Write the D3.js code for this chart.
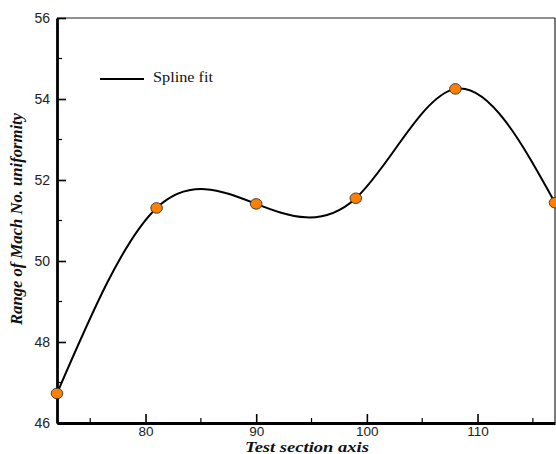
<!DOCTYPE html>
<html><head><meta charset="utf-8">
<script src="https://cdn.jsdelivr.net/npm/d3@7"></script>
<style>body{margin:0;background:#fff}svg{display:block}</style>
</head><body>
<svg id="c" width="556" height="454"></svg>
<script>
const xVals = [72, 81, 90, 99, 108, 117];
const yVals = [46.73, 51.31, 51.41, 51.55, 54.25, 51.44];
const xTicks = [80, 90, 100, 110];
const yTicks = [46, 48, 50, 52, 54, 56];
const legendLabel = "Spline fit";
const xTitle = "Test section axis";
const yTitle = "Range of Mach No. uniformity";

const svg = d3.select("#c");
const L = 57, R = 555, T = 18, B = 423;
const x = d3.scaleLinear().domain([72, 117]).range([L, R]);
const y = d3.scaleLinear().domain([46, 56]).range([B, T]);

// frame
svg.append("line").attr("x1", L).attr("x2", R).attr("y1", T).attr("y2", T).attr("stroke", "#222").attr("stroke-width", 1.2);
svg.append("line").attr("x1", R).attr("x2", R).attr("y1", T).attr("y2", B).attr("stroke", "#222").attr("stroke-width", 1.2);

// x axis
const xMinor = d3.range(75, 117, 5).filter(v => !xTicks.includes(v));
const gx = svg.append("g").attr("transform", `translate(0,${B})`)
  .call(d3.axisBottom(x).tickValues(xTicks).tickSize(-9).tickPadding(3).tickSizeOuter(0));
gx.select(".domain").attr("stroke", "#000").attr("stroke-width", 2.8);
gx.selectAll(".tick line").attr("stroke", "#000").attr("stroke-width", 1.6);
gx.selectAll("text").attr("font-family", "Liberation Sans, Arial, sans-serif").attr("font-size", 13.5).attr("fill", "#222");
svg.append("g").selectAll("line").data(xMinor).join("line")
  .attr("x1", d => x(d)).attr("x2", d => x(d)).attr("y1", B).attr("y2", B - 5)
  .attr("stroke", "#000").attr("stroke-width", 1.2);

// y axis
const yMinor = d3.range(47, 56, 2);
const gy = svg.append("g").attr("transform", `translate(${L},0)`)
  .call(d3.axisLeft(y).tickValues(yTicks).tickSize(-9).tickPadding(7).tickSizeOuter(0));
gy.select(".domain").attr("stroke", "#000").attr("stroke-width", 2.8);
gy.selectAll(".tick line").attr("stroke", "#000").attr("stroke-width", 1.6);
gy.selectAll("text").attr("font-family", "Liberation Sans, Arial, sans-serif").attr("font-size", 14).attr("fill", "#222");
svg.append("g").selectAll("line").data(yMinor).join("line")
  .attr("x1", L).attr("x2", L + 5).attr("y1", d => y(d)).attr("y2", d => y(d))
  .attr("stroke", "#000").attr("stroke-width", 1.2);

// spline
const pts = xVals.map((v, i) => [v, yVals[i]]);
svg.append("path").datum(pts)
  .attr("d", d3.line().x(d => x(d[0])).y(d => y(d[1])).curve(d3.curveNatural))
  .attr("fill", "none").attr("stroke", "#000").attr("stroke-width", 2);

svg.append("g").selectAll("ellipse").data(pts).join("ellipse")
  .attr("cx", d => x(d[0])).attr("cy", d => y(d[1]))
  .attr("rx", 5.8).attr("ry", 5.3)
  .attr("fill", "#ff8000").attr("stroke", "#333").attr("stroke-width", 0.9);

// legend
svg.append("line").attr("x1", 100).attr("x2", 144).attr("y1", 79).attr("y2", 79).attr("stroke", "#000").attr("stroke-width", 2);
svg.append("text").attr("x", 153).attr("y", 82).text(legendLabel)
  .attr("textLength", 60).attr("lengthAdjust", "spacingAndGlyphs")
  .attr("font-family", "Liberation Serif, Times New Roman, serif").attr("font-size", 15).attr("fill", "#111");

// titles
svg.append("text").attr("x", 245).attr("y", 451.5).text(xTitle)
  .attr("textLength", 124).attr("lengthAdjust", "spacingAndGlyphs")
  .attr("font-family", "Liberation Serif, Times New Roman, serif").attr("font-size", 15)
  .attr("font-weight", "bold").attr("font-style", "italic").attr("fill", "#111");
svg.append("text").attr("transform", "translate(22,325) rotate(-90)").text(yTitle)
  .attr("textLength", 212).attr("lengthAdjust", "spacingAndGlyphs")
  .attr("font-family", "Liberation Serif, Times New Roman, serif").attr("font-size", 16)
  .attr("font-weight", "bold").attr("font-style", "italic").attr("fill", "#111");
</script>
</body></html>
